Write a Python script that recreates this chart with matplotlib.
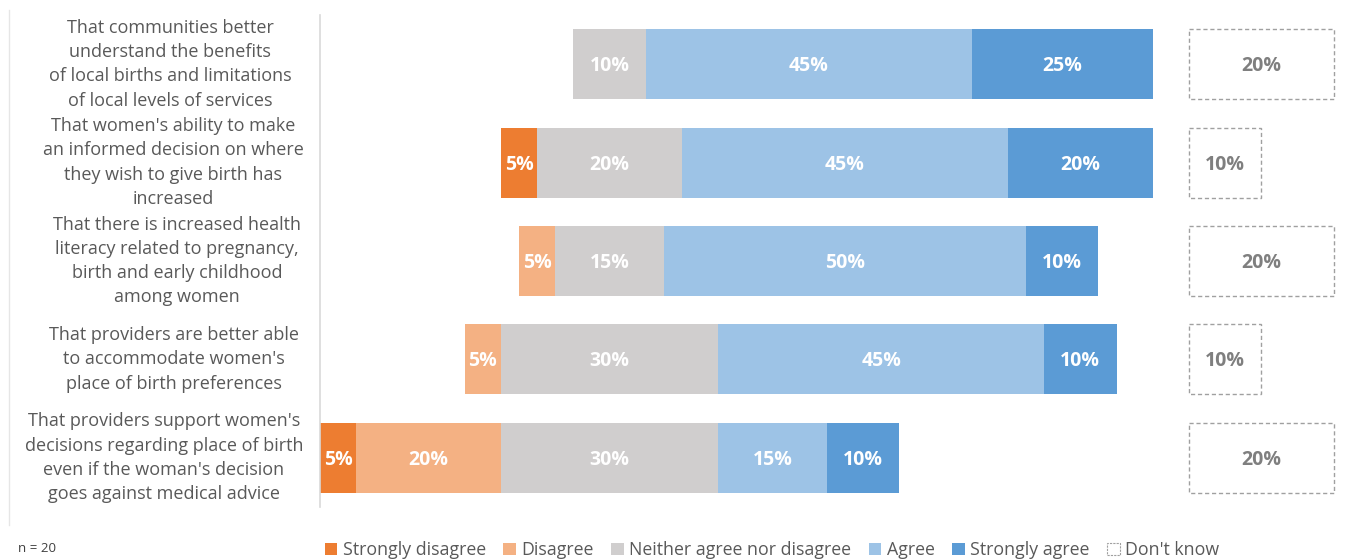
import matplotlib.pyplot as plt
from matplotlib.patches import Patch
from matplotlib.lines import Line2D
import matplotlib.transforms as mtransforms

plt.rcParams['font.family'] = ['Open Sans', 'DejaVu Sans']

# data
statements = [
    "That communities better\nunderstand the benefits\nof local births and limitations\nof local levels of services",
    "That women's ability to make\nan informed decision on where\nthey wish to give birth has\nincreased",
    "That there is increased health\nliteracy related to pregnancy,\nbirth and early childhood\namong women",
    "That providers are better able\nto accommodate women's\nplace of birth preferences",
    "That providers support women's\ndecisions regarding place of birth\neven if the woman's decision\ngoes against medical advice",
]
strongly_disagree = [0, 5, 0, 0, 5]
disagree = [0, 0, 5, 5, 20]
neither = [10, 20, 15, 30, 30]
agree = [45, 45, 50, 45, 15]
strongly_agree = [25, 20, 10, 10, 10]
dont_know = [20, 10, 20, 10, 20]

categories = ["Strongly disagree", "Disagree", "Neither agree nor disagree",
              "Agree", "Strongly agree", "Don't know"]
colors = ["#ED7D31", "#F4B183", "#D0CECE", "#9DC3E6", "#5B9BD5"]
dk_start = 80
label_x = [170, 173, 177, 174, 164]  # pixel centres of the row labels

fig = plt.figure(figsize=(13.54, 5.59), dpi=100)
ax = fig.add_axes([320 / 1354, 52 / 559, 1021 / 1354, 492 / 559])

h = 0.71
for i in range(len(statements)):
    left = -neither[i] / 2 - disagree[i] - strongly_disagree[i]
    vals = [strongly_disagree[i], disagree[i], neither[i], agree[i], strongly_agree[i]]
    for v, c in zip(vals, colors):
        if v > 0:
            ax.barh(i, v, left=left, height=h, color=c, edgecolor='none')
            ax.text(left + v / 2, i + 0.02, f"{v}%", ha='center', va='center',
                    color='white', fontsize=14, fontweight='bold')
        left += v
    d = dont_know[i]
    ax.barh(i, d, left=dk_start, height=h, facecolor='white', edgecolor='#A0A0A0',
            linestyle=(0, (3, 2)), linewidth=1)
    ax.text(dk_start + d / 2, i + 0.02, f"{d}%", ha='center', va='center',
            color='#7F7F7F', fontsize=14, fontweight='bold')

ax.set_xlim(-40, 101)
ax.set_ylim(4.5, -0.5)
ax.set_xticks([])
ax.set_yticks([])
for s in ['top', 'right', 'bottom']:
    ax.spines[s].set_visible(False)
ax.spines['left'].set_color('#D9D9D9')
ax.spines['left'].set_linewidth(1.2)

trans = mtransforms.blended_transform_factory(fig.transFigure, ax.transData)
for i, s in enumerate(statements):
    ax.text(label_x[i] / 1354, i, s, transform=trans, ha='center', va='center',
            fontsize=13, color='#595959', linespacing=1.45)

# faint frame line on the left
fig.add_artist(Line2D([9 / 1354, 9 / 1354], [1 - 10 / 559, 1 - 525 / 559],
                      color='#E6E6E6', linewidth=1, transform=fig.transFigure))

handles = [Patch(facecolor=c, edgecolor='none') for c in colors]
handles.append(Patch(facecolor='white', edgecolor='#A0A0A0', linestyle=(0, (2, 1)),
                     linewidth=0.8))
fig.legend(handles, categories, loc='center', bbox_to_anchor=(772 / 1354, 1 - 550 / 559),
           ncol=6, frameon=False, fontsize=12.8, handlelength=0.7, handleheight=0.7,
           handletextpad=0.3, columnspacing=1.0, labelcolor='#595959')

fig.text(18 / 1354, 1 - 549 / 559, "n = 20", ha='left', va='center', fontsize=9.5,
         color='#404040')

fig.savefig("out.png", dpi=100)
